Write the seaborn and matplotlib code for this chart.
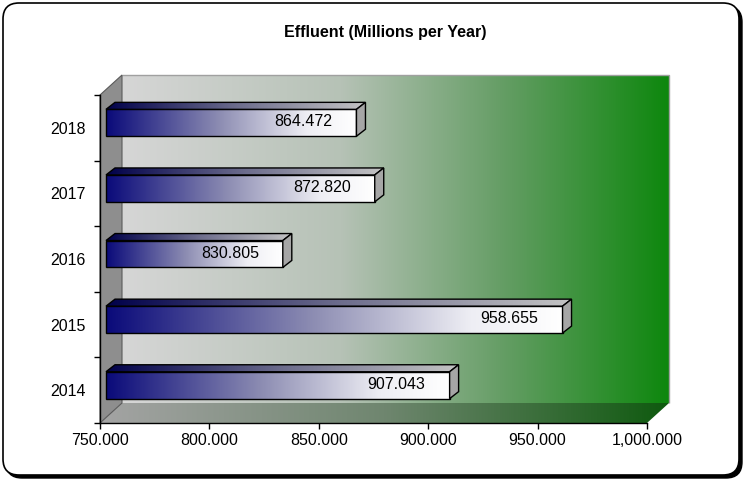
import numpy as np
import matplotlib
matplotlib.use("Agg")
import matplotlib.pyplot as plt
import matplotlib.transforms as mtransforms
from matplotlib.patches import Polygon, FancyBboxPatch, Rectangle
from matplotlib.colors import LinearSegmentedColormap
import seaborn as sns
import pandas as pd

# ---- data ----
years = ["2018", "2017", "2016", "2015", "2014"]
effluent = [864.472, 872.820, 830.805, 958.655, 907.043]
x_ticks = [750, 800, 850, 900, 950, 1000]
title = "Effluent (Millions per Year)"

W, H = 743, 479
FS = 11.5
sns.set_theme(style="white")
plt.rcParams['font.family'] = ['Liberation Sans', 'DejaVu Sans']

fig = plt.figure(figsize=(W / 100, H / 100), dpi=100)
fig.patch.set_facecolor("white")
ident = mtransforms.IdentityTransform()

# rounded border with shadow
shadow = FancyBboxPatch((6, 1), 736, 472, boxstyle="round,pad=0,rounding_size=16",
                        transform=ident, facecolor="black", edgecolor="black", lw=1, zorder=-3)
frame = FancyBboxPatch((3, 4), 736, 472, boxstyle="round,pad=0,rounding_size=16",
                       transform=ident, facecolor="white", edgecolor="black", lw=1.2, zorder=-2)
fig.add_artist(shadow)
fig.add_artist(frame)

ax = fig.add_axes([100 / W, 56 / H, 547 / W, 328 / H])
ax.set_facecolor("none")
ax.set_zorder(1)

df = pd.DataFrame({"year": years, "value": effluent})
sns.barplot(data=df, x="value", y="year", order=years, orient="h", ax=ax,
            width=0.41, color="white", edgecolor="black", linewidth=1)
bars = [p for p in ax.patches if isinstance(p, Rectangle)]

ax.set_xlim(x_ticks[0], x_ticks[-1])
ax.set_ylim(len(years) - 0.5, -0.5)
ax.set_autoscale_on(False)

DX, DY = 22, 20          # wall depth in pixels
BX, BY = 6, 5            # bar front offset
TX, TY = 9, 7            # bar depth

def disp(x, y):
    return ax.transData.transform((x, y))

fl = disp(x_ticks[0], len(years) - 0.5)
fr = disp(x_ticks[-1], len(years) - 0.5)
tl = disp(x_ticks[0], -0.5)

def grad(stops, n=256):
    cm = LinearSegmentedColormap.from_list("g", stops)
    return cm(np.linspace(0, 1, n))[None, :, :]

def clip_to(im, poly):
    im.set_clip_on(True)
    im.set_clip_box(fig.bbox)
    im.set_clip_path(poly)

# back wall
wall = grad([(0, "#d6d6d6"), (0.4, "#b6c2b6"), (0.7, "#649d64"), (1, "#0e870e")])
ax.imshow(wall, extent=(fl[0] + DX, fr[0] + DX, fl[1] + DY, tl[1] + DY),
          transform=ident, aspect="auto", clip_on=False, zorder=0.1)
ax.add_patch(Polygon([(fl[0] + DX, tl[1] + DY), (fr[0] + DX, tl[1] + DY),
                      (fr[0] + DX, fl[1] + DY)], closed=False, fill=False,
                     edgecolor="#a0a0a0", lw=1, transform=ident, clip_on=False, zorder=0.2))

# floor
floor_pts = [(fl[0], fl[1]), (fr[0], fr[1]), (fr[0] + DX, fr[1] + DY), (fl[0] + DX, fl[1] + DY)]
floor_poly = Polygon(floor_pts, closed=True, facecolor="none", edgecolor="none",
                     transform=ident, clip_on=False)
ax.add_patch(floor_poly)
fim = ax.imshow(grad([(0, "#a4a4a4"), (0.5, "#6f866f"), (1, "#0f5a0f")]),
                extent=(fl[0], fr[0] + DX, fl[1], fl[1] + DY),
                transform=ident, aspect="auto", zorder=0.3)
clip_to(fim, floor_poly)

# left wall
ax.add_patch(Polygon([(fl[0], fl[1]), (tl[0], tl[1]), (tl[0] + DX, tl[1] + DY),
                      (fl[0] + DX, fl[1] + DY)], closed=True, facecolor="#8e8e8e",
                     edgecolor="#5a5a5a", lw=0.8, transform=ident, clip_on=False, zorder=0.4))

# bars
off = mtransforms.ScaledTranslation(BX / 100, BY / 100, fig.dpi_scale_trans)
front_grad = grad([(0, "#0a0a7a"), (0.45, "#8c8cb2"), (0.8, "#eeeef4"), (1, "#ffffff")])
top_grad = grad([(0, "#00004a"), (0.5, "#6c6c8c"), (1, "#c4c4c4")])

for p in bars:
    val = p.get_width()
    y0 = p.get_y()
    h = p.get_height()
    p.set_x(x_ticks[0])
    p.set_width(val - x_ticks[0])
    p.set_transform(ax.transData + off)
    p.set_facecolor("none")
    p.set_clip_on(False)
    p.set_zorder(3)
    ax.imshow(front_grad, extent=(x_ticks[0], val, y0 + h, y0),
              transform=ax.transData + off, aspect="auto", clip_on=False, zorder=2.9)
    a = disp(x_ticks[0], y0) + np.array([BX, BY])
    b = disp(val, y0) + np.array([BX, BY])
    c = disp(val, y0 + h) + np.array([BX, BY])
    top_pts = [(a[0], a[1]), (b[0], b[1]), (b[0] + TX, b[1] + TY), (a[0] + TX, a[1] + TY)]
    top_poly = Polygon(top_pts, closed=True, facecolor="none", edgecolor="black",
                       lw=1, transform=ident, clip_on=False, zorder=3.1)
    ax.add_patch(top_poly)
    tim = ax.imshow(top_grad, extent=(a[0], b[0] + TX, a[1], a[1] + TY),
                    transform=ident, aspect="auto", zorder=3.0)
    clip_to(tim, top_poly)
    ax.add_patch(Polygon([(b[0], b[1]), (c[0], c[1]), (c[0] + TX, c[1] + TY),
                          (b[0] + TX, b[1] + TY)], closed=True, facecolor="#a6a6a6",
                         edgecolor="black", lw=1, transform=ident, clip_on=False, zorder=3.2))
    loff = mtransforms.ScaledTranslation((BX - 24) / 100, (BY + 1) / 100, fig.dpi_scale_trans)
    ax.text(val, y0 + h / 2, f"{val:.3f}", ha="right", va="center", fontsize=FS,
            color="black", transform=ax.transData + loff, zorder=4)

# axes styling
for s in ["top", "right"]:
    ax.spines[s].set_visible(False)
for s in ["left", "bottom"]:
    ax.spines[s].set_color("black")
    ax.spines[s].set_linewidth(1)
    ax.spines[s].set_zorder(2.5)

ax.set_xticks(x_ticks)
ax.set_xticklabels([f"{v:,.3f}" for v in x_ticks])
ax.set_yticks(np.arange(-0.5, len(years), 1.0))
ax.set_yticklabels([])
ax.set_yticks(range(len(years)), minor=True)
ax.set_yticklabels(years, minor=True)
ax.tick_params(axis="x", which="major", bottom=True, length=4, width=1, color="black",
               direction="out", pad=3, labelsize=FS, labelcolor="black")
ax.tick_params(axis="y", which="major", left=True, length=4, width=1, color="black",
               direction="out")
ax.tick_params(axis="y", which="minor", left=True, length=0, pad=10.5, labelsize=FS,
               labelcolor="black")
ax.set_xlabel("")
ax.set_ylabel("")
ax.grid(False)

fig.text(385 / W, 1 - 33 / H, title, ha="center", va="center", fontsize=FS,
         fontweight="bold", color="black")

fig.savefig("out.png", dpi=100)
